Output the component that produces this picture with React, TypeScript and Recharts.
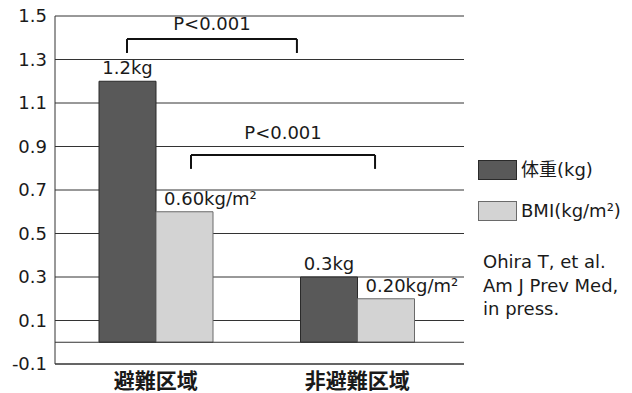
import React from 'react';
import {
  BarChart,
  Bar,
  XAxis,
  YAxis,
  CartesianGrid,
  ReferenceLine,
  ReferenceDot,
  LabelList,
  Legend,
} from 'recharts';

const categories = ['避難区域', '非避難区域'];
const categoryPos = [0.5, 1.5];
const weightKg = [1.2, 0.3];
const bmiValues = [0.6, 0.2];
const weightLabels = ['1.2kg', '0.3kg'];
const bmiLabels = ['0.60kg/m²', '0.20kg/m²'];
const yTicks = [-0.1, 0.1, 0.3, 0.5, 0.7, 0.9, 1.1, 1.3, 1.5];
const seriesNames = ['体重(kg)', 'BMI(kg/m²)'];
const seriesColors = ['#595959', '#d3d3d3'];
const seriesStrokes = ['#2a2a2a', '#6a6a6a'];
const citation = ['Ohira T, et al.', 'Am J Prev Med,', 'in press.'];
// significance brackets: x in category units (0..2), y in value units
const brackets = [
  { x1: 0.352, x2: 1.183, top: 1.394, bottom: 1.33, label: 'P<0.001', labelY: 1.466 },
  { x1: 0.665, x2: 1.565, top: 0.861, bottom: 0.797, label: 'P<0.001', labelY: 0.962 },
];

const data = categories.map((c, i) => ({
  name: c,
  pos: categoryPos[i],
  weight: weightKg[i],
  bmi: bmiValues[i],
  weightLabel: weightLabels[i],
  bmiLabel: bmiLabels[i],
}));

const FONT = '"DejaVu Sans", "Noto Sans CJK JP", sans-serif';
const TEXT = '#1a1a1a';

const CenterLabel = (props: any) => {
  const { x, y, width, value } = props;
  return (
    <text x={x + width / 2} y={y - 7} textAnchor="middle" fontSize={18} fill={TEXT} fontFamily={FONT}>
      {value}
    </text>
  );
};

const RightLabel = (props: any) => {
  const { x, y, value } = props;
  return (
    <text x={x + 8} y={y - 7} textAnchor="start" fontSize={18} fill={TEXT} fontFamily={FONT}>
      {value}
    </text>
  );
};

const CategoryTick = (props: any) => {
  const { x, y, payload } = props;
  return (
    <text
      x={x}
      y={y + 16}
      textAnchor="middle"
      fontSize={21}
      fontWeight="bold"
      fill={TEXT}
      fontFamily='"Noto Sans CJK JP", sans-serif'
    >
      {payload.value}
    </text>
  );
};

const PLabel = (props: any) => {
  const { viewBox, value } = props;
  const cx = viewBox.x + (viewBox.width || 0) / 2;
  const cy = viewBox.y + (viewBox.height || 0) / 2;
  return (
    <text x={cx} y={cy} dy="0.36em" textAnchor="middle" fontSize={18} fill={TEXT} fontFamily={FONT}>
      {value}
    </text>
  );
};

const LegendContent = () => (
  <div style={{ position: 'relative', fontFamily: FONT, fontSize: 18, color: TEXT }}>
    {seriesNames.map((n, i) => (
      <div
        key={n}
        style={{ position: 'absolute', left: 0, top: i * 41, display: 'flex', alignItems: 'center', whiteSpace: 'nowrap' }}
      >
        <div
          style={{
            width: 37,
            height: 18,
            background: seriesColors[i],
            border: `1px solid ${seriesStrokes[i]}`,
            marginRight: 4,
          }}
        />
        <span style={{ lineHeight: '20px' }}>{n}</span>
      </div>
    ))}
    <div style={{ position: 'absolute', left: 5, top: 90, lineHeight: '23.5px', whiteSpace: 'nowrap' }}>
      {citation.map((l) => (
        <div key={l}>{l}</div>
      ))}
    </div>
  </div>
);

export default function App() {
  return (
    <div style={{ position: 'fixed', left: 0, top: 0, width: 632, height: 393, background: '#fff', fontFamily: FONT }}>
      <BarChart
        width={632}
        height={393}
        data={data}
        margin={{ top: 16, right: 168, left: 0, bottom: 0 }}
        barGap={0}
        barSize={57}
      >
        <CartesianGrid horizontal vertical={false} stroke="#333" strokeOpacity={1} />
        <XAxis
          dataKey="name"
          height={29}
          tickLine={false}
          axisLine={{ stroke: '#333' }}
          tick={<CategoryTick />}
          padding={{ left: 0, right: 6 }}
          interval={0}
        />
        <XAxis xAxisId="n" dataKey="pos" type="number" domain={[0, 2]} allowDataOverflow hide />
        <YAxis
          width={55}
          domain={[-0.1, 1.5]}
          ticks={yTicks}
          tickLine={false}
          axisLine={{ stroke: '#333' }}
          tick={{ fontSize: 18, fill: TEXT, fontFamily: FONT }}
          tickFormatter={(v: number) => String(v)}
          interval={0}
        />
        <ReferenceLine y={0} stroke="#333" />
        <Bar dataKey="weight" name={seriesNames[0]} fill={seriesColors[0]} stroke={seriesStrokes[0]} isAnimationActive={false}>
          <LabelList dataKey="weightLabel" content={<CenterLabel />} />
        </Bar>
        <Bar dataKey="bmi" name={seriesNames[1]} fill={seriesColors[1]} stroke={seriesStrokes[1]} isAnimationActive={false}>
          <LabelList dataKey="bmiLabel" content={<RightLabel />} />
        </Bar>
        {brackets.map((b, i) => (
          <ReferenceLine
            key={`t${i}`}
            xAxisId="n"
            ifOverflow="visible"
            segment={[{ x: b.x1, y: b.top }, { x: b.x2, y: b.top }]}
            stroke="#111"
            strokeWidth={2}
          />
        ))}
        {brackets.map((b, i) => (
          <ReferenceLine
            key={`l${i}`}
            xAxisId="n"
            ifOverflow="visible"
            segment={[{ x: b.x1, y: b.top }, { x: b.x1, y: b.bottom }]}
            stroke="#111"
            strokeWidth={2}
          />
        ))}
        {brackets.map((b, i) => (
          <ReferenceLine
            key={`r${i}`}
            xAxisId="n"
            ifOverflow="visible"
            segment={[{ x: b.x2, y: b.top }, { x: b.x2, y: b.bottom }]}
            stroke="#111"
            strokeWidth={2}
          />
        ))}
        {brackets.map((b, i) => (
          <ReferenceDot
            key={`p${i}`}
            xAxisId="n"
            ifOverflow="visible"
            x={(b.x1 + b.x2) / 2}
            y={b.labelY}
            r={0}
            fill="none"
            stroke="none"
            label={<PLabel value={b.label} />}
          />
        ))}
        <Legend
          layout="vertical"
          align="center"
          verticalAlign="middle"
          wrapperStyle={{ left: 478, top: 160, width: 154, height: 180 }}
          content={<LegendContent />}
        />
      </BarChart>
    </div>
  );
}
